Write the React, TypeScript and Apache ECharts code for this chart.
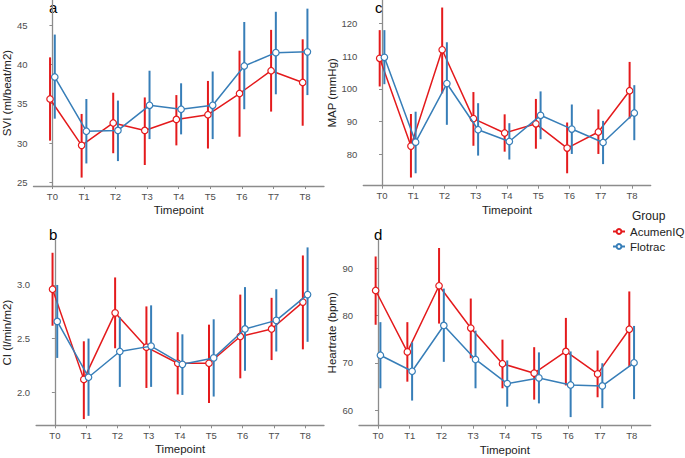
import React, { useEffect, useRef } from "react";
import * as echarts from "echarts";

const timepoints = ["T0", "T1", "T2", "T3", "T4", "T5", "T6", "T7", "T8"];
const groups = ["AcumenIQ", "Flotrac"];
const groupColors = ["#E41A1C", "#377EB8"];

// Panel a: SVI
const sviAcumen = [35.6, 29.7, 32.55, 31.6, 33.0, 33.6, 36.3, 39.2, 37.7];
const sviAcumenLo = [30.3, 25.6, 28.7, 27.2, 29.7, 29.3, 30.8, 34.0, 32.2];
const sviAcumenHi = [40.9, 33.7, 36.4, 35.8, 36.1, 37.9, 41.75, 44.4, 43.2];
const sviFlotrac = [38.4, 31.5, 31.6, 34.8, 34.3, 34.8, 39.8, 41.5, 41.6];
const sviFlotracLo = [33.1, 27.4, 27.7, 30.5, 31.1, 30.5, 34.3, 36.2, 36.1];
const sviFlotracHi = [43.8, 35.6, 35.4, 39.2, 37.6, 39.1, 45.4, 46.7, 47.1];

// Panel b: CI
const ciAcumen = [2.96, 2.12, 2.74, 2.42, 2.27, 2.27, 2.52, 2.59, 2.84];
const ciAcumenLo = [2.62, 1.75, 2.41, 2.04, 1.98, 1.9, 2.13, 2.3, 2.4];
const ciAcumenHi = [3.3, 2.475, 3.07, 2.8, 2.56, 2.63, 2.91, 2.88, 3.275];
const ciFlotrac = [2.66, 2.14, 2.38, 2.43, 2.26, 2.32, 2.59, 2.67, 2.91];
const ciFlotracLo = [2.32, 1.78, 2.05, 2.05, 1.975, 1.96, 2.2, 2.38, 2.47];
const ciFlotracHi = [3.0, 2.5, 2.7, 2.81, 2.54, 2.68, 2.98, 2.96, 3.35];

// Panel c: MAP
const mapAcumen = [109.3, 82.5, 111.9, 90.9, 86.5, 89.3, 81.9, 86.8, 99.4];
const mapAcumenLo = [100.7, 72.9, 98.6, 82.6, 80.8, 81.7, 74.2, 80.1, 90.9];
const mapAcumenHi = [117.9, 92.3, 124.8, 99.0, 92.2, 96.9, 89.7, 93.7, 108.2];
const mapFlotrac = [109.6, 83.7, 101.6, 87.5, 83.9, 91.9, 87.7, 83.6, 92.6];
const mapFlotracLo = [101.4, 74.2, 89.0, 79.6, 78.4, 84.6, 80.1, 77.0, 84.3];
const mapFlotracHi = [117.9, 93.0, 114.2, 95.6, 89.5, 99.2, 95.2, 90.2, 101.1];

// Panel d: Heartrate
const hrAcumen = [85.3, 72.3, 86.3, 77.35, 69.8, 67.8, 72.4, 67.65, 77.1];
const hrAcumenLo = [78.05, 66.0, 78.3, 70.95, 64.6, 62.2, 65.2, 62.7, 69.1];
const hrAcumenHi = [92.5, 78.6, 94.3, 83.6, 74.9, 73.3, 79.5, 72.6, 85.1];
const hrFlotrac = [71.6, 68.2, 77.9, 70.7, 65.6, 66.8, 65.3, 65.1, 70.0];
const hrFlotracLo = [64.6, 62.0, 70.2, 64.6, 60.7, 61.4, 58.5, 60.4, 62.3];
const hrFlotracHi = [78.6, 74.3, 85.7, 76.8, 70.5, 72.2, 72.4, 69.9, 77.8];

const sviTicks = [25, 30, 35, 40, 45];
const ciTicks = [2.0, 2.5, 3.0];
const mapTicks = [80, 90, 100, 110, 120];
const hrTicks = [60, 70, 80, 90];

const panels = [
  {
    label: "a", yName: "SVI (ml/beat/m2)", ticks: sviTicks, decimals: 0,
    means: [sviAcumen, sviFlotrac], lo: [sviAcumenLo, sviFlotracLo], hi: [sviAcumenHi, sviFlotracHi],
    grid: { left: 31.5, top: 0, width: 292.5, height: 186 }, yMin: 24.53, yMax: 48.2, nameGap: 20,
    labelPos: [49, 0], labelAlign: "top",
  },
  {
    label: "b", yName: "CI (l/min/m2)", ticks: ciTicks, decimals: 1,
    means: [ciAcumen, ciFlotrac], lo: [ciAcumenLo, ciFlotracLo], hi: [ciAcumenHi, ciFlotracHi],
    grid: { left: 34, top: 240, width: 290, height: 185.3 }, yMin: 1.692, yMax: 3.419, nameGap: 22,
    labelPos: [49, 242], labelAlign: "bottom",
  },
  {
    label: "c", yName: "MAP (mmHg)", ticks: mapTicks, decimals: 0,
    means: [mapAcumen, mapFlotrac], lo: [mapAcumenLo, mapFlotracLo], hi: [mapAcumenHi, mapFlotracHi],
    grid: { left: 363.3, top: 0, width: 287.4, height: 185.7 }, yMin: 70.41, yMax: 127.1, nameGap: 24,
    labelPos: [375, 0], labelAlign: "top",
  },
  {
    label: "d", yName: "Heartrate (bpm)", ticks: hrTicks, decimals: 0,
    means: [hrAcumen, hrFlotrac], lo: [hrAcumenLo, hrFlotracLo], hi: [hrAcumenHi, hrFlotracHi],
    grid: { left: 359, top: 240, width: 291.7, height: 185.7 }, yMin: 56.68, yMax: 95.99, nameGap: 21,
    labelPos: [374, 242], labelAlign: "bottom",
  },
];

const FONT = "Liberation Sans, Arial, Helvetica, sans-serif";
const AXIS_COLOR = "#8c8c8c";
const DODGE = 0.075;

export default function App() {
  const ref = useRef<HTMLDivElement>(null);

  useEffect(() => {
    if (!ref.current) return;
    const chart = echarts.init(ref.current, undefined, { renderer: "svg" });
    const xIdx = timepoints.map((_, i) => i);

    const grids: any[] = [];
    const xAxes: any[] = [];
    const yAxes: any[] = [];
    const series: any[] = [];
    const graphics: any[] = [];

    panels.forEach((p, k) => {
      grids.push({ ...p.grid, containLabel: false });
      xAxes.push({
        type: "value",
        gridIndex: k,
        min: -0.6,
        max: 8.6,
        splitLine: { show: false },
        axisLine: { show: true, lineStyle: { color: AXIS_COLOR, width: 1.3 } },
        axisTick: { show: true, customValues: xIdx, length: 3, lineStyle: { color: AXIS_COLOR, width: 1 } },
        axisLabel: {
          customValues: xIdx,
          formatter: (v: number) => timepoints[Math.round(v)],
          color: "#4d4d4d",
          fontSize: 9.5,
          fontFamily: FONT,
          margin: 5,
        },
        name: "Timepoint",
        nameLocation: "middle",
        nameGap: 18,
        nameTextStyle: { color: "#222", fontSize: 11.5, fontFamily: FONT },
      });
      yAxes.push({
        type: "value",
        gridIndex: k,
        min: p.yMin,
        max: p.yMax,
        splitLine: { show: false },
        axisLine: { show: true, lineStyle: { color: AXIS_COLOR, width: 1.3 } },
        axisTick: { show: true, customValues: p.ticks, length: 3, lineStyle: { color: AXIS_COLOR, width: 1 } },
        axisLabel: {
          customValues: p.ticks,
          formatter: (v: number) => v.toFixed(p.decimals),
          color: "#4d4d4d",
          fontSize: 9.5,
          fontFamily: FONT,
          margin: 6,
        },
        name: p.yName,
        nameLocation: "middle",
        nameGap: p.nameGap,
        nameTextStyle: { color: "#222", fontSize: 11.5, fontFamily: FONT },
      });

      groups.forEach((g, gi) => {
        const off = gi === 0 ? -DODGE : DODGE;
        const color = groupColors[gi];
        series.push({
          type: "custom",
          name: g + "-err",
          xAxisIndex: k,
          yAxisIndex: k,
          silent: true,
          z: 2 + gi * 2,
          encode: { x: 0, y: [1, 2] },
          data: p.lo[gi].map((l, i) => [i + off, l, p.hi[gi][i]]),
          renderItem: (_params: any, api: any) => {
            const x = api.value(0);
            const a = api.coord([x, api.value(1)]);
            const b = api.coord([x, api.value(2)]);
            return {
              type: "line",
              shape: { x1: a[0], y1: a[1], x2: b[0], y2: b[1] },
              style: { stroke: color, lineWidth: 2 },
            };
          },
        });
        series.push({
          type: "line",
          name: g,
          xAxisIndex: k,
          yAxisIndex: k,
          z: 3 + gi * 2,
          data: p.means[gi].map((v, i) => [i + off, v]),
          symbol: "circle",
          symbolSize: 6.5,
          showAllSymbol: true,
          lineStyle: { color, width: 1.5 },
          itemStyle: { color: "#ffffff", borderColor: color, borderWidth: 1.2 },
          emphasis: { disabled: true },
        });
      });

      graphics.push({
        type: "text",
        x: p.labelPos[0],
        y: p.labelPos[1],
        style: {
          text: p.label,
          fill: "#000",
          font: `15px ${FONT}`,
          textVerticalAlign: p.labelAlign,
          verticalAlign: p.labelAlign,
        },
      });
    });

    graphics.push({
      type: "text",
      x: 632,
      y: 222,
      style: {
        text: "Group",
        fill: "#222",
        font: `12px ${FONT}`,
        verticalAlign: "bottom",
        textVerticalAlign: "bottom",
      },
    });

    chart.setOption({
      animation: false,
      backgroundColor: "#ffffff",
      grid: grids,
      xAxis: xAxes,
      yAxis: yAxes,
      series,
      graphic: graphics,
      legend: {
        data: groups,
        orient: "vertical",
        left: 612,
        top: 225,
        itemWidth: 12,
        itemHeight: 6,
        itemGap: 2,
        padding: 0,
        selectedMode: false,
        textStyle: { color: "#222", fontSize: 11.5, fontFamily: FONT, lineHeight: 13 },
      },
    });

    return () => chart.dispose();
  }, []);

  return (
    <div
      ref={ref}
      style={{ position: "fixed", left: 0, top: 0, width: 685, height: 458, background: "#fff" }}
    />
  );
}
